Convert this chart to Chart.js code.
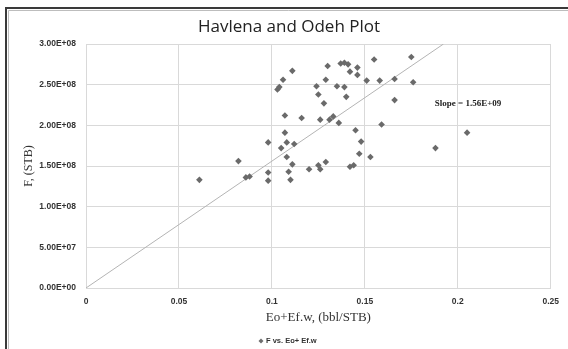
<!DOCTYPE html>
<html>
<head>
<meta charset="utf-8">
<script src="https://cdn.jsdelivr.net/npm/chart.js@4/dist/chart.umd.min.js"></script>
<style>
  html, body { margin: 0; padding: 0; background: #fff; }
  #wrap { width: 568px; height: 349px; }
</style>
</head>
<body>
<div id="wrap"><canvas id="hoChart" width="568" height="349"></canvas></div>
<script>
// Eo+Ef,w (bbl/STB)
const eoEfw = [
  0.103, 0.104, 0.106, 0.111, 0.124, 0.125, 0.128, 0.129, 0.130, 0.135,
  0.137, 0.139, 0.139, 0.140, 0.141, 0.142, 0.146, 0.146, 0.151, 0.155,
  0.158, 0.166, 0.166, 0.175, 0.176, 0.107, 0.116, 0.126, 0.131, 0.133,
  0.136, 0.159, 0.145, 0.107, 0.205, 0.098, 0.108, 0.148, 0.112, 0.105,
  0.188, 0.147, 0.108, 0.153, 0.082, 0.111, 0.125, 0.129, 0.144, 0.142,
  0.120, 0.126, 0.098, 0.109, 0.086, 0.088, 0.061, 0.098, 0.110
];
// F (STB)
const fStb = [
  2.44e8, 2.47e8, 2.56e8, 2.67e8, 2.48e8, 2.38e8, 2.27e8, 2.56e8, 2.73e8, 2.48e8,
  2.76e8, 2.77e8, 2.47e8, 2.35e8, 2.75e8, 2.66e8, 2.71e8, 2.62e8, 2.55e8, 2.81e8,
  2.55e8, 2.57e8, 2.31e8, 2.84e8, 2.53e8, 2.12e8, 2.09e8, 2.07e8, 2.07e8, 2.11e8,
  2.03e8, 2.01e8, 1.94e8, 1.91e8, 1.91e8, 1.79e8, 1.79e8, 1.80e8, 1.77e8, 1.72e8,
  1.72e8, 1.65e8, 1.61e8, 1.61e8, 1.56e8, 1.52e8, 1.51e8, 1.55e8, 1.51e8, 1.49e8,
  1.46e8, 1.46e8, 1.42e8, 1.43e8, 1.36e8, 1.37e8, 1.33e8, 1.32e8, 1.33e8
];
const slope = 1.56e9;   // trend through origin
const xTicks = [0, 0.05, 0.1, 0.15, 0.2, 0.25];
const yTicks = [0, 5e7, 1e8, 1.5e8, 2e8, 2.5e8, 3e8];

function sci(v) {
  // 3.00E+08 style
  const [m, e] = v.toExponential(2).split('e');
  const n = Math.abs(parseInt(e, 10));
  return m + 'E' + (e[0] === '-' ? '-' : '+') + String(n).padStart(2, '0');
}

const points = eoEfw.map((x, i) => ({ x: x, y: fStb[i] }));
const yMax = yTicks[yTicks.length - 1];
const trend = [{ x: 0, y: 0 }, { x: yMax / slope, y: yMax }];

// titles, note, legend, frame
const decor = {
  id: 'decor',
  beforeDraw(chart) {
    const c = chart.ctx;
    c.save();
    c.fillStyle = '#fff';
    c.fillRect(0, 0, chart.width, chart.height);
    c.restore();
  },
  afterDraw(chart) {
    const c = chart.ctx;
    const a = chart.chartArea;
    c.save();
    // frame
    c.strokeStyle = '#3a3a3a';
    c.lineWidth = 2;
    c.beginPath();
    c.moveTo(6, 349);
    c.lineTo(6, 8);
    c.lineTo(568, 8);
    c.stroke();
    c.strokeStyle = '#bdbdbd';
    c.lineWidth = 1;
    c.beginPath();
    c.moveTo(8.5, 349);
    c.lineTo(8.5, 10.5);
    c.lineTo(568, 10.5);
    c.stroke();

    c.fillStyle = '#222';
    c.textBaseline = 'middle';
    c.textAlign = 'center';
    c.font = '17px "Open Sans", sans-serif';
    c.fillText('Havlena and Odeh Plot', 289, 27);

    c.fillStyle = '#333';
    c.font = '13px "Liberation Serif", serif';
    c.fillText('Eo+Ef.w, (bbl/STB)', (a.left + a.right) / 2, 318);

    c.save();
    c.translate(29, (a.top + a.bottom) / 2);
    c.rotate(-Math.PI / 2);
    c.font = '12px "Liberation Serif", serif';
    c.fillText('F, (STB)', 0, 0);
    c.restore();

    c.fillStyle = '#222';
    c.font = 'bold 9px "Liberation Serif", serif';
    c.fillText('Slope = ' + sci(slope), 468, 104);

    // legend
    c.font = 'bold 7.5px "Liberation Sans", sans-serif';
    c.textAlign = 'left';
    c.fillStyle = '#333';
    c.fillText('F vs. Eo+ Ef.w', 266, 341);
    c.fillStyle = '#6e6e6e';
    c.beginPath();
    c.moveTo(261, 338.5);
    c.lineTo(263.5, 341);
    c.lineTo(261, 343.5);
    c.lineTo(258.5, 341);
    c.closePath();
    c.fill();
    c.restore();
  }
};

new Chart(document.getElementById('hoChart'), {
  type: 'scatter',
  data: {
    datasets: [
      {
        label: 'F vs. Eo+ Ef.w',
        data: points,
        pointStyle: 'rectRot',
        pointRadius: 3.3,
        backgroundColor: '#6a6a6a',
        borderWidth: 0,
        order: 1
      },
      {
        label: 'trend',
        data: trend,
        showLine: true,
        pointRadius: 0,
        borderColor: '#b4b4b4',
        borderWidth: 1,
        order: 2
      }
    ]
  },
  options: {
    responsive: false,
    animation: false,
    layout: { padding: { top: 44, right: 17, bottom: 0, left: 0 } },
    plugins: {
      legend: { display: false },
      title: { display: false },
      tooltip: { enabled: false }
    },
    scales: {
      x: {
        type: 'linear',
        min: 0,
        max: 0.25,
        afterBuildTicks: s => { s.ticks = xTicks.map(v => ({ value: v })); },
        afterFit: s => { s.height = 61; },
        grid: { color: '#d9d9d9', drawTicks: false },
        border: { color: '#d9d9d9' },
        ticks: {
          padding: 9,
          color: '#333',
          font: { family: '"Liberation Sans", sans-serif', size: 8.5, weight: 'bold' },
          callback: v => String(v)
        }
      },
      y: {
        type: 'linear',
        min: 0,
        max: 3e8,
        afterBuildTicks: s => { s.ticks = yTicks.map(v => ({ value: v })); },
        afterFit: s => { s.width = 86; },
        grid: { color: '#d9d9d9', drawTicks: false },
        border: { color: '#d9d9d9' },
        ticks: {
          padding: 10,
          color: '#333',
          font: { family: '"Liberation Sans", sans-serif', size: 8.5, weight: 'bold' },
          callback: v => sci(v)
        }
      }
    }
  },
  plugins: [decor]
});
</script>
</body>
</html>
